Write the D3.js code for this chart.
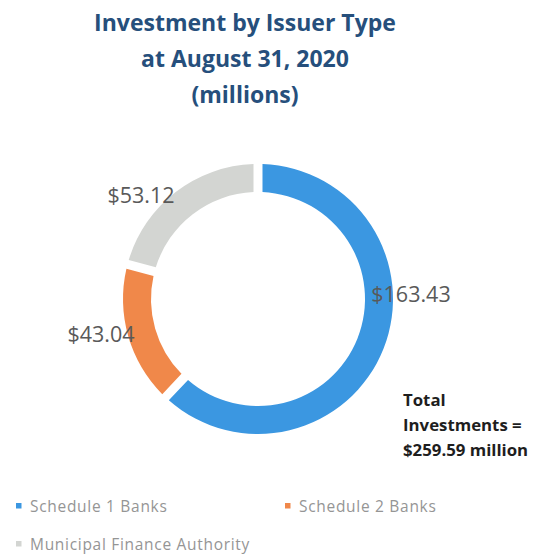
<!DOCTYPE html>
<html>
<head>
<meta charset="utf-8">
<script src="https://cdn.jsdelivr.net/npm/d3@7/dist/d3.min.js"></script>
<style>
  html, body { margin: 0; padding: 0; background: #ffffff; }
  svg { display: block; }
</style>
</head>
<body>
<svg id="chart" width="533" height="557"></svg>
<script>
// Investment holdings by issuer type, in millions of dollars
const categories = ["Schedule 1 Banks", "Schedule 2 Banks", "Municipal Finance Authority"];
const values = [163.43, 43.04, 53.12];
const valueLabels = ["$163.43", "$43.04", "$53.12"];
const titleLines = ["Investment by Issuer Type", "at August 31, 2020", "(millions)"];
const totalLines = ["Total", "Investments =", "$259.59 million"];

const colors = ["#3b97e1", "#f0884a", "#d3d5d2"];

const svg = d3.select("#chart");

// Title
svg.append("g")
  .selectAll("text")
  .data(titleLines)
  .join("text")
  .attr("x", 245)
  .attr("y", (d, i) => 31 + i * 36)
  .attr("text-anchor", "middle")
  .attr("font-family", "'Open Sans', sans-serif")
  .attr("font-weight", 700)
  .attr("font-size", 23)
  .attr("fill", "#264f7c")
  .text(d => d);

// Donut ring
const cx = 258, cy = 299;
const outerR = 135, innerR = 107;

const pie = d3.pie().sort(null).value(d => d)
  .startAngle(0).endAngle(2 * Math.PI)
  .padAngle(9 / outerR);

const arc = d3.arc()
  .innerRadius(innerR)
  .outerRadius(outerR)
  .padRadius(outerR);

const arcs = pie(values);

const ring = svg.append("g").attr("transform", `translate(${cx},${cy})`);
ring.selectAll("path")
  .data(arcs)
  .join("path")
  .attr("d", arc)
  .attr("fill", (d, i) => colors[i]);

// Value labels: offsets of each label's baseline centre from the ring centre
const labelOffset = [
  { dx: 153, dy: 3 },
  { dx: -157, dy: 43 },
  { dx: -117, dy: -96 }
];
ring.selectAll("text.val")
  .data(arcs)
  .join("text")
  .attr("class", "val")
  .attr("x", (d, i) => labelOffset[i].dx)
  .attr("y", (d, i) => labelOffset[i].dy)
  .attr("text-anchor", "middle")
  .attr("font-family", "'Open Sans', sans-serif")
  .attr("font-size", 21.5)
  .attr("fill", "#595959")
  .text((d, i) => valueLabels[i]);

// Total annotation
svg.append("g")
  .selectAll("text")
  .data(totalLines)
  .join("text")
  .attr("x", 403)
  .attr("y", (d, i) => 406 + i * 25)
  .attr("font-family", "'Open Sans', sans-serif")
  .attr("font-weight", 700)
  .attr("font-size", 16.8)
  .attr("fill", "#1e1e1e")
  .text(d => d);

// Legend
const legendPos = [
  { x: 16, y: 512 },
  { x: 285, y: 512 },
  { x: 16, y: 550 }
];
const legend = svg.append("g")
  .selectAll("g")
  .data(categories)
  .join("g")
  .attr("transform", (d, i) => `translate(${legendPos[i].x},${legendPos[i].y})`);

legend.append("rect")
  .attr("x", 0)
  .attr("y", -9)
  .attr("width", 5.5)
  .attr("height", 5.5)
  .attr("fill", (d, i) => colors[i]);

legend.append("text")
  .attr("x", 14)
  .attr("y", 0)
  .attr("font-family", "'Open Sans', sans-serif")
  .attr("font-size", 15.5)
  .attr("fill", "#959595")
  .attr("letter-spacing", 0.7)
  .text(d => d);
</script>
</body>
</html>
